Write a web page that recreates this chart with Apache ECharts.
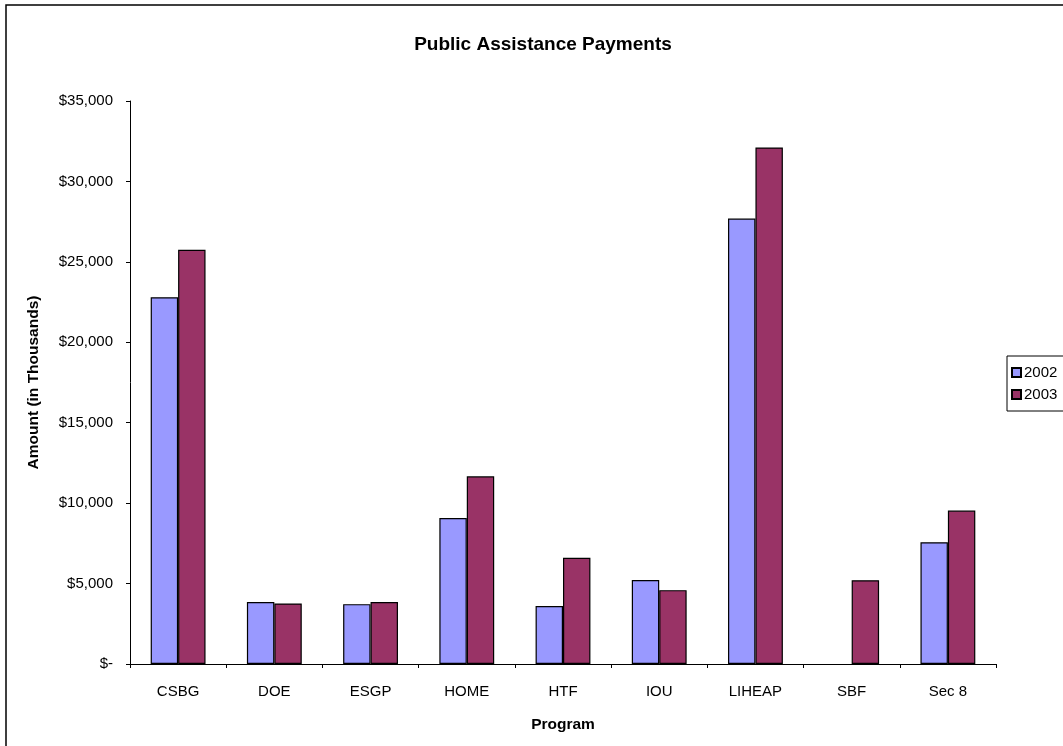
<!DOCTYPE html>
<html>
<head>
<meta charset="utf-8">
<title>Public Assistance Payments</title>
<script src="https://cdn.jsdelivr.net/npm/echarts@6/dist/echarts.min.js"></script>
<style>
  html, body { margin: 0; padding: 0; background: #fff; }
  #chart { width: 1063px; height: 746px; }
</style>
</head>
<body>
<div id="chart"></div>
<script>
// Program categories and yearly payments (thousands of dollars)
const categories = ['CSBG', 'DOE', 'ESGP', 'HOME', 'HTF', 'IOU', 'LIHEAP', 'SBF', 'Sec 8'];
const payments2002 = [22800, 3850, 3720, 9070, 3600, 5220, 27690, null, 7570];
const payments2003 = [25750, 3760, 3850, 11670, 6600, 4590, 32110, 5210, 9540];
const seriesNames = ['2002', '2003'];

const FONT = '"Liberation Sans", Arial, sans-serif';

function money(v) {
  if (v === 0) return '$-';
  return '$' + v.toLocaleString('en-US');
}

const chart = echarts.init(document.getElementById('chart'), null, { renderer: 'canvas' });

chart.setOption({
  animation: false,
  backgroundColor: '#ffffff',
  textStyle: { fontFamily: FONT },
  title: {
    text: 'Public Assistance Payments',
    left: 538,
    top: 30,
    textAlign: 'center',
    textStyle: { fontFamily: FONT, fontSize: 19, fontWeight: 'bold', color: '#000' }
  },
  graphic: [{
    type: 'rect',
    shape: { x: 6, y: 5, width: 1100, height: 800 },
    style: { fill: 'none', stroke: '#000', lineWidth: 1.5 },
    silent: true,
    z: 100
  }],
  legend: {
    orient: 'vertical',
    left: 1007,
    top: 356,
    padding: [9, 10, 9, 4],
    itemWidth: 9,
    itemHeight: 9,
    itemGap: 7,
    borderColor: '#000',
    borderWidth: 1,
    icon: 'rect',
    textStyle: { fontFamily: FONT, fontSize: 15, color: '#000', padding: [0, 0, 0, -2] },
    data: seriesNames
  },
  grid: { left: 130, right: 67, top: 101, bottom: 82, containLabel: false },
  xAxis: {
    type: 'category',
    data: categories,
    name: 'Program',
    nameLocation: 'middle',
    nameGap: 53,
    nameTextStyle: { fontFamily: FONT, fontSize: 15.5, fontWeight: 'bold', color: '#000' },
    axisLine: { lineStyle: { color: '#000', width: 1 } },
    axisTick: { show: true, length: 4, lineStyle: { color: '#000' } },
    axisLabel: { margin: 20, fontFamily: FONT, fontSize: 15, color: '#000' },
    splitLine: { show: false }
  },
  yAxis: {
    type: 'value',
    min: 0,
    max: 35000,
    interval: 5000,
    name: 'Amount (in Thousands)',
    nameLocation: 'middle',
    nameGap: 88,
    nameRotate: 90,
    nameTextStyle: { fontFamily: FONT, fontSize: 15.5, fontWeight: 'bold', color: '#000' },
    axisLine: { show: true, lineStyle: { color: '#000', width: 1 } },
    axisTick: { show: true, length: 4, lineStyle: { color: '#000' } },
    axisLabel: { margin: 17, fontFamily: FONT, fontSize: 15, color: '#000', formatter: money },
    splitLine: { show: false }
  },
  series: [
    {
      name: seriesNames[0],
      type: 'bar',
      data: payments2002,
      barGap: '0%',
      barCategoryGap: '43%',
      itemStyle: { color: '#9999FF', borderColor: '#000', borderWidth: 1.2 }
    },
    {
      name: seriesNames[1],
      type: 'bar',
      data: payments2003,
      barGap: '0%',
      barCategoryGap: '43%',
      itemStyle: { color: '#993366', borderColor: '#000', borderWidth: 1.2 }
    }
  ]
});
</script>
</body>
</html>
